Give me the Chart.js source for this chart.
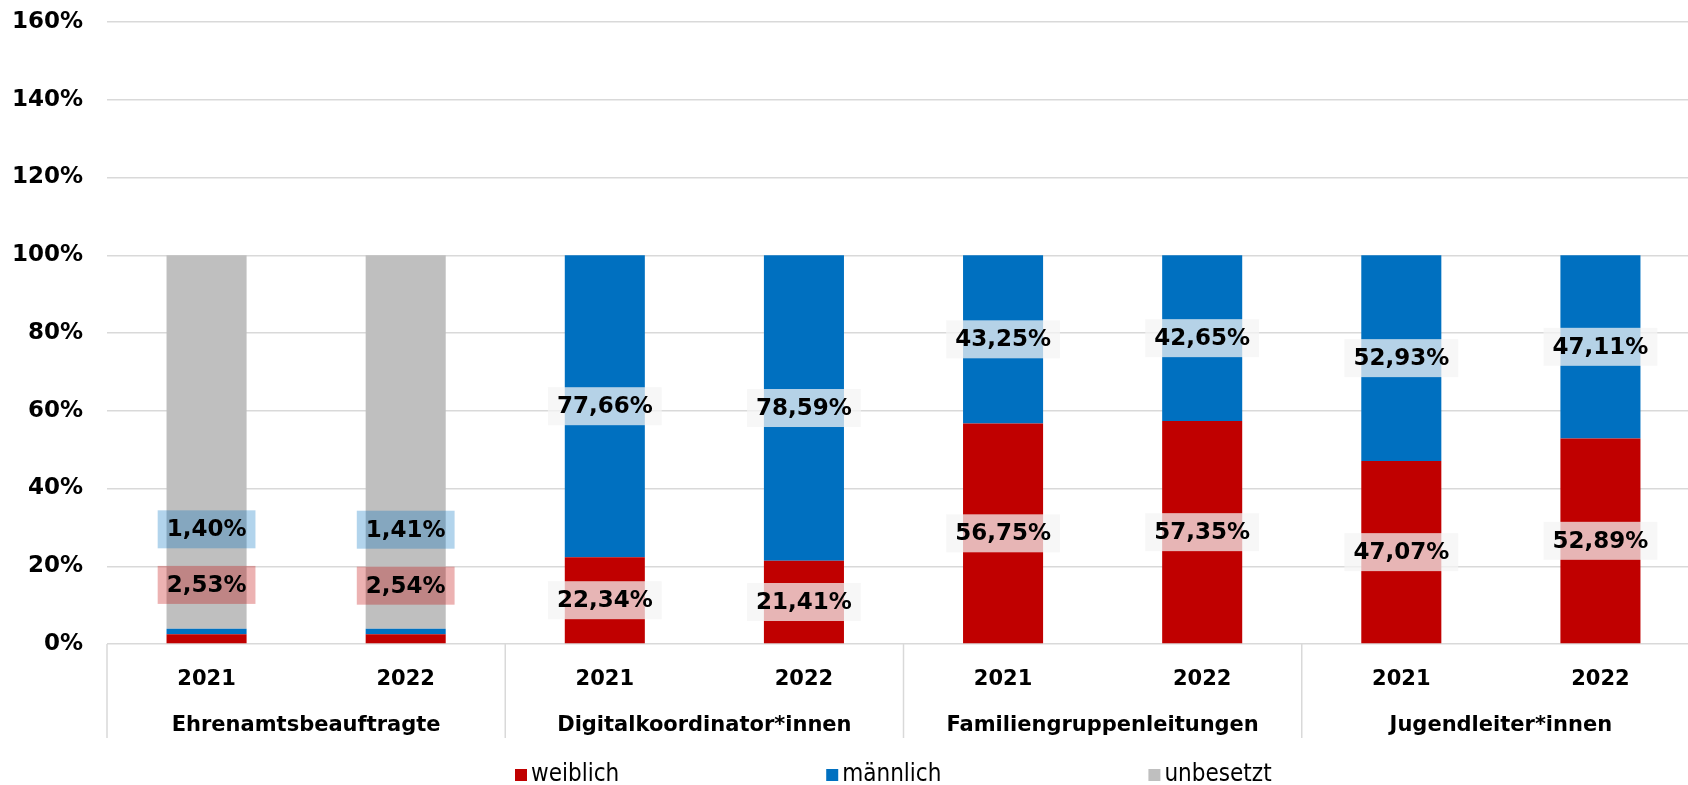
<!DOCTYPE html>
<html>
<head>
<meta charset="utf-8">
<script src="https://cdn.jsdelivr.net/npm/chart.js@4"></script>
<style>
  html, body { margin: 0; padding: 0; background: #fff; overflow: hidden; }
  #wrap { width: 1700px; height: 785px; }
</style>
</head>
<body>
<div id="wrap"><canvas id="myChart" width="1700" height="785"></canvas></div>
<script>
const groups = ['Ehrenamtsbeauftragte', 'Digitalkoordinator*innen', 'Familiengruppenleitungen', 'Jugendleiter*innen'];
const years = ['2021', '2022', '2021', '2022', '2021', '2022', '2021', '2022'];

const weiblich = [2.53, 2.54, 22.34, 21.41, 56.75, 57.35, 47.07, 52.89];
const maennlich = [1.40, 1.41, 77.66, 78.59, 43.25, 42.65, 52.93, 47.11];
const unbesetzt = [96.07, 96.05, 0, 0, 0, 0, 0, 0];

const seriesNames = ['weiblich', 'männlich', 'unbesetzt'];
const seriesColors = ['#C00000', '#0070C0', '#BFBFBF'];

// labels of the tiny segments were moved up in the original (value where the label sits)
const movedLabels = { 0: [15.2, 29.5], 1: [15.0, 29.4] };

const ctx = document.getElementById('myChart');
const gridColor = '#D9D9D9';
const boldFont = '"DejaVu Sans", Verdana, sans-serif';

const fmt = (v) => v.toFixed(2).replace('.', ',') + '%';

const valueLabels = {
  id: 'valueLabels',
  afterDatasetsDraw(chart) {
    const c = chart.ctx;
    const yScale = chart.scales.y;
    c.save();
    c.font = 'bold 23px ' + boldFont;
    c.textAlign = 'center';
    c.textBaseline = 'middle';
    [0, 1].forEach((d) => {
      const meta = chart.getDatasetMeta(d);
      const data = chart.data.datasets[d].data;
      meta.data.forEach((bar, i) => {
        const v = data[i];
        if (!v) return;
        let y = (bar.y + bar.base) / 2;
        let fill = 'rgba(244, 244, 244, 0.74)';
        if (movedLabels[i]) {
          y = yScale.getPixelForValue(movedLabels[i][d]);
          fill = d === 0 ? 'rgba(192, 0, 0, 0.3)' : 'rgba(0, 112, 192, 0.3)';
        }
        const text = fmt(v);
        const w = c.measureText(text).width + 18;
        const h = 38;
        c.fillStyle = fill;
        c.fillRect(bar.x - w / 2, y - h / 2, w, h);
        c.fillStyle = '#000';
        c.fillText(text, bar.x, y + 1);
      });
    });
    c.restore();
  },
};

const groupLines = {
  id: 'groupLines',
  afterDraw(chart) {
    const c = chart.ctx;
    const x = chart.scales.x;
    const top = chart.chartArea.bottom;
    const bottom = top + 94;
    const xs = [chart.chartArea.left];
    for (let i = 2; i < years.length; i += 2) {
      xs.push((x.getPixelForValue(i - 1) + x.getPixelForValue(i)) / 2);
    }
    c.save();
    c.strokeStyle = gridColor;
    c.lineWidth = 1.5;
    xs.forEach((px) => {
      c.beginPath();
      c.moveTo(px, top);
      c.lineTo(px, bottom);
      c.stroke();
    });

    // legend
    c.font = '24px "DejaVu Sans Condensed", "DejaVu Sans", sans-serif';
    c.textBaseline = 'middle';
    c.textAlign = 'left';
    let lx = 515;
    const ly = 775;
    seriesNames.forEach((name, k) => {
      c.fillStyle = seriesColors[k];
      c.fillRect(lx, ly - 6, 12, 12);
      c.fillStyle = '#000';
      c.fillText(name, lx + 16, ly);
      lx += 16 + c.measureText(name).width + 207;
    });
    c.restore();
  },
};

const data = {
  labels: years,
  datasets: [
    { label: seriesNames[0], data: weiblich, backgroundColor: seriesColors[0] },
    { label: seriesNames[1], data: maennlich, backgroundColor: seriesColors[1] },
    { label: seriesNames[2], data: unbesetzt, backgroundColor: seriesColors[2] },
  ].map((ds) => ({ ...ds, barPercentage: 0.402, categoryPercentage: 1, borderWidth: 0 })),
};

const config = {
  type: 'bar',
  data: data,
  options: {
    responsive: false,
    animation: false,
    layout: { padding: { top: 22, bottom: 37, left: 0, right: 0 } },
    scales: {
      x: {
        stacked: true,
        grid: { display: false },
        border: { display: false },
        ticks: { color: '#000', font: { family: boldFont, size: 21, weight: 'bold' }, padding: 15, maxRotation: 0, autoSkip: false },
        afterFit: (scale) => { scale.height = 58; },
      },
      x2: {
        type: 'category',
        labels: groups,
        position: 'bottom',
        offset: true,
        weight: 1,
        grid: { display: false },
        border: { display: false },
        ticks: { color: '#000', font: { family: boldFont, size: 21, weight: 'bold' }, padding: 3, maxRotation: 0, autoSkip: false },
        afterFit: (scale) => { scale.height = 46; },
      },
      y: {
        stacked: true,
        min: 0,
        max: 160,
        ticks: {
          stepSize: 20,
          color: '#000',
          padding: 4,
          font: { family: boldFont, size: 23, weight: 'bold' },
          callback: (v) => v + '%',
        },
        grid: { color: gridColor, lineWidth: 1.5, drawTicks: true, tickLength: 20, tickColor: 'rgba(0,0,0,0)' },
        border: { display: false },
        afterFit: (scale) => { scale.width = 107; },
      },
    },
    plugins: {
      legend: { display: false },
      tooltip: { enabled: false },
    },
  },
  plugins: [valueLabels, groupLines],
};

new Chart(ctx, config);
</script>
</body>
</html>
